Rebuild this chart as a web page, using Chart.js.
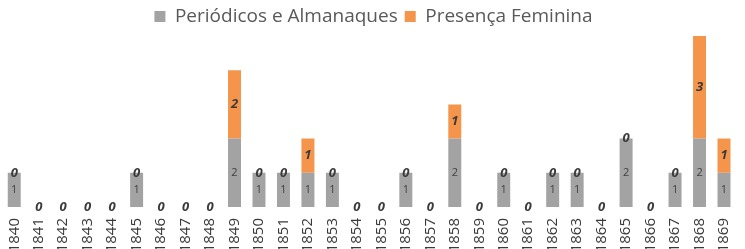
<!DOCTYPE html>
<html lang="pt">
<head>
  <meta charset="UTF-8" />
  <title>Periódicos e Almanaques</title>
  <script src="https://cdn.jsdelivr.net/npm/chart.js"></script>
  <style>
    body { margin: 0; background: #fff; }
    #wrap { width: 745px; height: 249px; }
  </style>
</head>
<body>
  <div id="wrap"><canvas id="chart"></canvas></div>
  <script>
    const years = ["1840","1841","1842","1843","1844","1845","1846","1847","1848","1849",
      "1850","1851","1852","1853","1854","1855","1856","1857","1858","1859",
      "1860","1861","1862","1863","1864","1865","1866","1867","1868","1869"];
    const periodicos = [1,0,0,0,0,1,0,0,0,2, 1,1,1,1,0,0,1,0,2,0, 1,0,1,1,0,2,0,1,2,1];
    const presenca   = [0,0,0,0,0,0,0,0,0,2, 0,0,1,0,0,0,0,0,1,0, 0,0,0,0,0,0,0,0,3,1];

    // rótulos de valor dentro das barras
    const valueLabels = {
      id: "valueLabels",
      afterDatasetsDraw(chart) {
        const ctx = chart.ctx;
        ctx.save();
        ctx.textAlign = "center";
        ctx.textBaseline = "middle";
        chart.data.datasets.forEach((ds, i) => {
          chart.getDatasetMeta(i).data.forEach((bar, j) => {
            const v = ds.data[j];
            const cy = (bar.y + bar.base) / 2;
            if (i === 0) {
              if (v === 0) return;
              ctx.font = "11px 'Open Sans'";
              ctx.fillStyle = "#404040";
            } else {
              ctx.font = "bold italic 13px 'Open Sans'";
              ctx.fillStyle = "#3a3a3a";
            }
            ctx.fillText(String(v), bar.x, cy);
          });
        });
        ctx.restore();
      }
    };

    new Chart(document.getElementById("chart"), {
      type: "bar",
      data: {
        labels: years,
        datasets: [
          {
            label: "Periódicos e Almanaques",
            data: periodicos,
            backgroundColor: "#a3a3a3",
            categoryPercentage: 1.0,
            barPercentage: 0.53
          },
          {
            label: "Presença Feminina",
            data: presenca,
            backgroundColor: "#f5954b",
            categoryPercentage: 1.0,
            barPercentage: 0.53
          }
        ]
      },
      options: {
        responsive: true,
        maintainAspectRatio: false,
        animation: false,
        layout: { padding: { left: 2, right: 0, top: 0, bottom: 0 } },
        plugins: {
          legend: {
            position: "top",
            labels: {
              boxWidth: 11,
              boxHeight: 11,
              padding: 7,
              color: "#595959",
              font: { family: "'Open Sans'", size: 19 }
            }
          },
          tooltip: { enabled: false }
        },
        scales: {
          x: {
            stacked: true,
            grid: { display: false },
            border: { display: false },
            afterFit: (scale) => { scale.height = 42; },
            ticks: {
              autoSkip: false,
              minRotation: 90,
              maxRotation: 90,
              padding: 3,
              color: "#3a3a3a",
              font: { family: "'Open Sans'", size: 15 }
            }
          },
          y: {
            stacked: true,
            display: false,
            min: 0,
            max: 5
          }
        }
      },
      plugins: [valueLabels]
    });
  </script>
</body>
</html>
